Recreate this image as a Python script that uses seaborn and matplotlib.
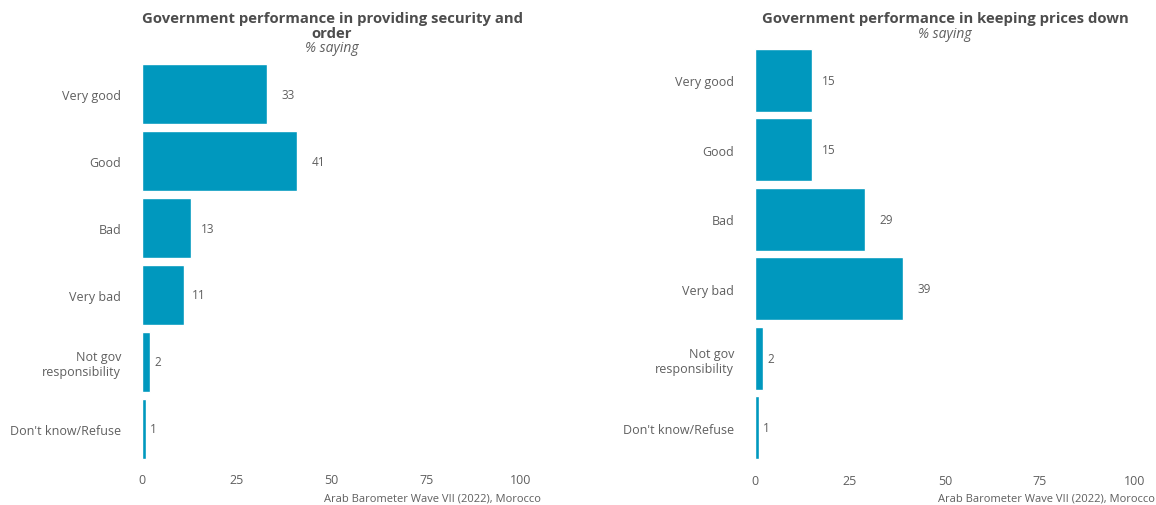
import matplotlib
matplotlib.use("Agg")
import matplotlib.pyplot as plt
import seaborn as sns
import pandas as pd

# ---- data ----
categories = ["Very good", "Good", "Bad", "Very bad", "Not gov\nresponsibility", "Don't know/Refuse"]
security_vals = [33, 41, 13, 11, 2, 1]
prices_vals = [15, 15, 29, 39, 2, 1]

title_left = "Government performance in providing security and\norder"
title_right = "Government performance in keeping prices down"
subtitle = "% saying"
caption = "Arab Barometer Wave VII (2022), Morocco"
x_ticks = [0, 25, 50, 75, 100]

bar_color = "#0098BE"
text_color = "#5f5f5f"

sns.set_theme(style="white")
plt.rcParams["font.family"] = ["Open Sans", "DejaVu Sans"]

fig = plt.figure(figsize=(11.56, 5.06), dpi=100)
W, H = 1156, 506

def px_axes(x0, x1, y0, y1):
    return fig.add_axes([x0 / W, 1 - y1 / H, (x1 - x0) / W, (y1 - y0) / H])

ax_l = px_axes(142, 521, 61.7, 463.3)
ax_r = px_axes(755, 1135, 46.5, 463.5)

for ax, vals in [(ax_l, security_vals), (ax_r, prices_vals)]:
    df = pd.DataFrame({"cat": categories, "val": vals})
    sns.barplot(data=df, x="val", y="cat", orient="h", color=bar_color,
                width=0.9, saturation=1, ax=ax, order=categories)
    ax.set_xlim(0, 100)
    ax.set_xticks(x_ticks)
    ax.set_xlabel("")
    ax.set_ylabel("")
    for s in ax.spines.values():
        s.set_visible(False)
    ax.tick_params(axis="x", length=0, pad=8, labelsize=9, labelcolor=text_color)
    ax.tick_params(axis="y", length=0, pad=15, labelsize=9, labelcolor=text_color)
    for lab in ax.get_yticklabels():
        lab.set_multialignment("right")
    for i, v in enumerate(vals):
        off_px = 4 + 10 * min(v, 25) / 25
        ax.annotate(str(v), xy=(v, i), xytext=(off_px * 0.72, 0), textcoords="offset points",
                    ha="left", va="center", fontsize=8.5, color=text_color)

# titles and captions in figure pixel coords
fig.text(332 / W, 1 - 12 / H, title_left, ha="center", va="top", fontsize=10.7,
         fontweight="bold", color="#4d4d4d", linespacing=1.05)
fig.text(332 / W, 1 - 49 / H, subtitle, ha="center", va="center", fontsize=10,
         style="italic", color=text_color)
fig.text(945 / W, 1 - 12 / H, title_right, ha="center", va="top", fontsize=10.7,
         fontweight="bold", color="#4d4d4d")
fig.text(945 / W, 1 - 34.5 / H, subtitle, ha="center", va="center", fontsize=10,
         style="italic", color=text_color)
fig.text(541 / W, 1 - 499 / H, caption, ha="right", va="center", fontsize=8, color=text_color)
fig.text(1155 / W, 1 - 499 / H, caption, ha="right", va="center", fontsize=8, color=text_color)

fig.savefig("out.png", dpi=100)
